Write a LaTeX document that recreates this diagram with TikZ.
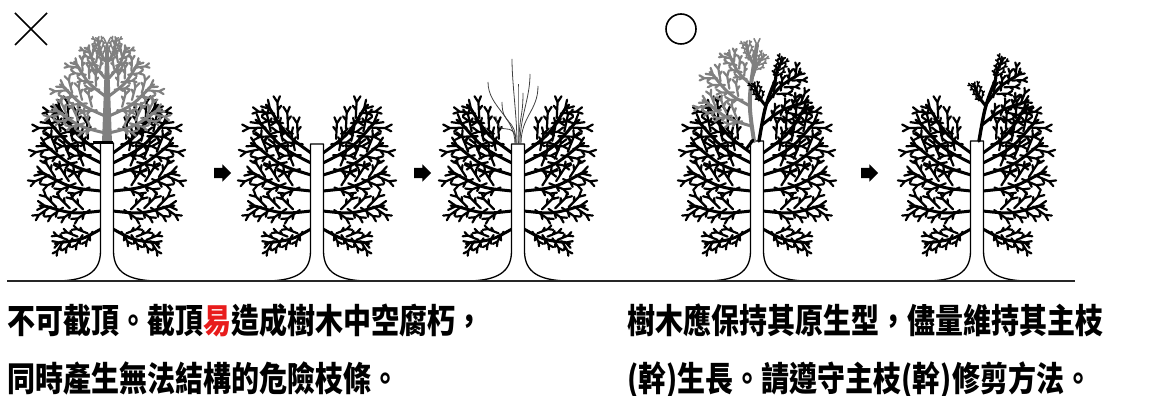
\documentclass[tikz,border=0pt]{standalone}
\usepackage{fontspec}
\newfontfamily\cjk{Noto Sans CJK TC}
\usetikzlibrary{positioning, shapes.arrows, calc}
\definecolor{warnred}{RGB}{232,28,28}

\begin{document}
\begin{tikzpicture}[
    x=1pt, y=1pt,
    bough/.style={line width=3pt, line cap=round, line join=round},
    twig/.style={line width=2.2pt, line cap=round, line join=round},
    trunk/.style={draw, fill=white, line width=1.3pt, line join=round},
    sprout/.style={line width=0.8pt, draw=black!75},
    ground/.style={line width=2.2pt, draw=black!85},
    symbol/.style={line width=1.6pt},
    stepper/.style={single arrow, fill=black, draw=none, minimum height=17pt, inner xsep=0pt, inner ysep=5pt, single arrow head extend=3.5pt},
    caption/.style={font=\cjk\bfseries\fontsize{28}{34}\selectfont, anchor=base west, inner sep=0pt}
]
\useasboundingbox (0,0) rectangle (1160,396);

% Parameters for ease of adjustments
\newcommand{\GroundY}{115}
\newcommand{\CutH}{138}

% One bough with its twigs: start x, start y, angle, length
\newcommand{\Bough}[4]{%
  \begin{scope}[shift={(#1,#2)}, rotate=#3]
    \pgfmathsetmacro{\tw}{min(2.2,0.07*#4)}
    \draw[bough] (0,0) .. controls (0.5*#4,0.1*#4) .. (#4,0);
    \foreach \t/\s [evaluate=\t as \tl using \t*#4] in {0.2/1,0.32/-1,0.44/1,0.56/-1,0.68/1,0.8/-1,0.9/1}{
      \draw[twig, line width=\tw pt] (\tl,0) -- ++(\s*40:0.26*#4) coordinate (tw)
        -- ++(\s*65:0.11*#4) (tw) -- ++(\s*10:0.12*#4)
        ($(\tl,0)!0.5!(tw)$) -- ++(\s*80:0.09*#4);
    }
    \draw[twig, line width=\tw pt] (#4,0) -- ++(30:0.16*#4) (#4,0) -- ++(-30:0.16*#4) (#4,0) -- ++(0:0.1*#4);
  \end{scope}}

% Lower crown, both sides
\newcommand{\LowerCrown}{%
  \foreach \sd in {1,-1}{
    \begin{scope}[xscale=\sd]
      \foreach \hh/\ang/\len in {52/198/44, 70/175/56, 90/163/60, 106/152/62, 118/142/64, 128/133/60}{
        \Bough{-6}{\hh}{\ang}{\len}
      }
    \end{scope}
  }}

% Upper crown above the cut
\newcommand{\UpperCrown}{%
  \fill (-5,\CutH) -- (-1.5,236) -- (1.5,236) -- (5,\CutH) -- cycle;
  \foreach \sd in {1,-1}{
    \begin{scope}[xscale=\sd]
      \foreach \hh/\ang/\len in {148/155/52, 165/145/50, 185/132/42, 203/120/32, 220/108/22}{
        \Bough{-2}{\hh}{\ang}{\len}
      }
    \end{scope}
  }
  \draw[twig, line width=1.6pt] (0,236) -- ++(65:7) (0,236) -- ++(115:7);}

% Trunk with flared base
\newcommand{\Trunk}[1]{%
  \draw[trunk] (-48,0) .. controls (-22,1) and (-6.5,8) .. (-6.5,30) -- (-6.5,#1)
    -- (6.5,#1) -- (6.5,30) .. controls (6.5,8) and (22,1) .. (48,0);}

% Right leader kept in the good pruning
\newcommand{\RightLeader}{%
  \draw[bough, line width=3.4pt] (2,140) .. controls (8,175) .. (18,200);
  \Bough{5}{156}{28}{48}
  \Bough{10}{178}{42}{42}
  \Bough{18}{198}{72}{24}
  \Bough{8}{176}{118}{22}}

% Symbols
\draw[symbol] (15,383) -- (47,351) (15,351) -- (47,383);
\draw[symbol] (681,367) circle (15);

% Tree 1: full crown, top marked for topping
\begin{scope}[shift={(107,\GroundY)}]
  \LowerCrown
  \Trunk{\CutH}
  \begin{scope}[color=gray]
    \UpperCrown
  \end{scope}
  \draw[line width=3pt] (-14,\CutH) -- (6,\CutH);
\end{scope}

% Tree 2: topped stub
\begin{scope}[shift={(317,\GroundY)}]
  \LowerCrown
  \Trunk{137}
\end{scope}

% Tree 3: stub with sprouts
\begin{scope}[shift={(518,\GroundY)}]
  \LowerCrown
  \Trunk{137}
  \foreach \sx/\ex/\eh in {-3/-30/199, -2/-16/179, -1/-6/222, 0/0/197, 1/5/188, 2/12/207, 3/20/195, -2/-22/165}{
    \draw[sprout] (\sx,137) .. controls (\sx,165) and (\ex,\eh-25) .. (\ex,\eh);
  }
\end{scope}

% Tree 4: codominant leaders, left one marked
\begin{scope}[shift={(757,\GroundY)}]
  \LowerCrown
  \Trunk{140}
  \begin{scope}[color=gray]
    \draw[bough, line width=4pt] (-3,140) .. controls (-9,180) .. (0,236);
    \foreach \bx/\hh/\ang/\len in {-6/155/152/50, -7/175/140/48, -6/196/126/36, -3/216/110/22, -4/205/62/22}{
      \Bough{\bx}{\hh}{\ang}{\len}
    }
    \draw[twig, line width=1.6pt] (0,236) -- ++(65:7) (0,236) -- ++(115:7);
  \end{scope}
  \RightLeader
  \draw[line width=3pt, line cap=round] (-10,133) -- (-4,141);
\end{scope}

% Tree 5: after removing the left leader
\begin{scope}[shift={(977,\GroundY)}]
  \LowerCrown
  \Trunk{140}
  \RightLeader
\end{scope}

% Ground
\draw[ground] (7,\GroundY) -- (1075,\GroundY);

% Step arrows
\node[stepper] (arrA) at (220,223) {};
\node[stepper] (arrB) at (420,223) {};
\node[stepper] (arrC) at (867,223) {};

% Captions
\node[caption] (capA1) at (7,62) {\scalebox{1}[1.22]{不可截頂。截頂\textcolor{warnred}{易}造成樹木中空腐朽，}};
\node[caption] (capA2) at ([yshift=-58pt]capA1.base west) {\scalebox{1}[1.22]{同時產生無法結構的危險枝條。}};
\node[caption] (capB1) at (627,62) {\scalebox{1}[1.22]{樹木應保持其原生型，儘量維持其主枝}};
\node[caption] (capB2) at ([yshift=-58pt]capB1.base west) {\scalebox{1}[1.22]{(幹)生長。請遵守主枝(幹)修剪方法。}};

\end{tikzpicture}
\end{document}
